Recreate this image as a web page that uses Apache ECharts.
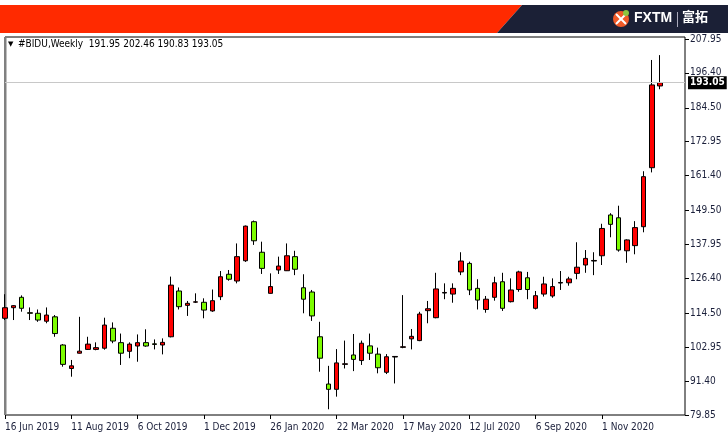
<!DOCTYPE html>
<html><head><meta charset="utf-8">
<script src="https://cdn.jsdelivr.net/npm/echarts@6/dist/echarts.min.js"></script>
<style>html,body{margin:0;padding:0;background:#fff}#c{width:728px;height:446px}</style>
</head><body><div id="c"></div>
<script>
// Weekly candles starting 16 Jun 2019
const startYear = 2019, startMonth = 5, startDay = 16;
const openV  = [112.8,116.4,119.95,114.7,114.5,111.8,113.3,103.7,95.7,100.9,102.2,102.2,102.6,109.4,104.5,101.55,103.35,104.5,104.1,103.7,
  106.5,122.1,117.2,118.3,118.25,115.3,120.15,127.8,125.5,132.4,145.7,135.3,121.3,129.25,129.0,133.8,123.2,121.75,106.5,90.4,
  88.6,97.1,100.3,98.4,103.4,100.6,94.4,99.6,102.9,105.8,105.2,115.4,113.0,121.4,121.05,128.6,131.5,123.0,115.8,119.95,
  125.25,118.45,122.6,126.6,116.2,121.05,120.4,124.8,124.9,128.1,130.95,132.3,134.1,148.0,147.05,135.8,137.55,144.0,164.1,191.95];
const closeV = [116.4,117.1,116.2,114.5,112.2,113.9,107.6,97.1,96.6,101.6,104.0,102.8,110.5,105.05,100.9,104.0,104.5,103.35,103.9,104.6,
  124.1,116.75,117.9,118.4,115.6,118.8,126.95,126.1,133.8,144.2,139.2,129.8,123.6,130.6,134.1,129.5,119.3,113.6,99.2,88.6,
  97.6,97.3,98.8,104.3,100.9,95.95,99.7,99.8,103.1,106.65,114.25,116.05,122.8,121.6,123.0,132.3,122.45,119.0,119.3,124.9,
  116.2,122.45,128.6,122.6,120.5,124.5,123.6,125.0,126.2,130.2,133.2,132.5,143.4,144.8,136.05,139.5,143.7,161.05,192.3,193.05];
const lowV   = [112.2,112.2,115.05,112.2,111.6,111.1,106.5,96.3,92.9,100.8,102.0,101.9,102.1,104.3,96.9,99.2,98.0,103.1,102.2,100.5,
  106.3,115.8,113.6,118.0,112.8,115.0,119.0,125.6,124.7,132.0,137.8,127.9,121.2,127.9,128.9,127.5,114.5,111.9,94.6,81.8,
  86.1,95.7,94.8,96.9,98.6,94.05,93.8,90.6,102.6,102.2,105.0,111.1,112.8,119.3,118.1,127.5,120.7,115.8,114.7,118.8,
  115.3,118.2,121.85,119.3,115.8,120.2,119.8,122.45,123.9,126.1,128.3,127.5,130.95,140.4,135.5,131.7,134.6,142.1,162.5,190.83];
const highV  = [121.0,117.3,120.6,116.5,115.8,116.5,113.9,104.0,98.6,113.3,106.5,104.6,113.0,111.4,107.6,104.6,107.3,109.05,105.6,105.95,
  127.0,123.3,118.7,121.3,119.6,122.6,128.9,129.25,138.3,144.4,146.1,138.9,128.1,133.8,138.3,135.8,127.8,122.45,111.6,96.6,
  102.3,105.2,107.45,105.2,107.6,102.8,100.6,99.95,120.7,109.15,115.0,118.7,128.3,124.7,124.7,135.3,132.1,126.1,120.4,126.95,
  128.3,126.4,129.0,128.6,122.1,126.95,126.4,128.9,126.95,138.7,136.05,135.3,145.0,148.6,151.15,139.7,145.9,162.9,200.8,202.46];
const yTicks = [79.85,91.40,102.95,114.50,126.40,137.95,149.50,161.40,172.95,184.50,196.40,207.95];
const lastPrice = 193.05;
const headerText = '#BIDU,Weekly  191.95 202.46 190.83 193.05';
const labelEvery = 8;
const padWeeks = 3;

const months = ['Jan','Feb','Mar','Apr','May','Jun','Jul','Aug','Sep','Oct','Nov','Dec'];
const cats = [];
for (let i = 0; i < openV.length + padWeeks; i++) {
  const d = new Date(Date.UTC(startYear, startMonth, startDay + 7 * i));
  cats.push(d.getUTCDate() + ' ' + months[d.getUTCMonth()] + ' ' + d.getUTCFullYear());
}
const ohlc = openV.map((o, i) => [o, closeV[i], lowV[i], highV[i]]);
const showIdx = (i) => i % labelEvery === 0 && i < openV.length;

const FONT = 'DejaVu Sans Condensed, DejaVu Sans, sans-serif';
const chart = echarts.init(document.getElementById('c'), null, {renderer: 'canvas'});
chart.setOption({
  animation: false,
  backgroundColor: '#ffffff',
  grid: {left: 5, right: 43, top: 37, bottom: 31, show: true, borderColor: '#000', borderWidth: 1, backgroundColor: '#fff'},
  xAxis: {
    type: 'category', data: cats, boundaryGap: false,
    axisLine: {show: false},
    axisTick: {show: true, length: 4, interval: showIdx, lineStyle: {color: '#000'}},
    axisLabel: {interval: showIdx, align: 'left', margin: 7,
      fontSize: 10, fontFamily: FONT, color: '#1a1f3a'},
    splitLine: {show: false}
  },
  yAxis: {
    type: 'value', position: 'right', min: 79.85, max: 208.63, scale: true,
    axisLine: {show: false}, splitLine: {show: false},
    axisTick: {show: true, length: 4, customValues: yTicks, lineStyle: {color: '#000'}},
    axisLabel: {customValues: yTicks, formatter: (v) => v.toFixed(2), margin: 5,
      fontSize: 10, fontFamily: FONT, color: '#1a1f3a'}
  },
  series: [{
    type: 'candlestick', data: ohlc, barWidth: 5, clip: true,
    itemStyle: {color: '#ff0000', color0: '#7cfc00', borderColor: '#000', borderColor0: '#000', borderWidth: 1},
    markLine: {
      silent: true, symbol: ['none', 'none'], animation: false,
      lineStyle: {color: '#c8c8c8', type: 'solid', width: 1},
      label: {show: true, position: 'end', formatter: () => lastPrice.toFixed(2), distance: 3,
        backgroundColor: '#000', color: '#fff', padding: [2, 2, 1, 2], fontSize: 10, fontWeight: 'bold', fontFamily: FONT},
      data: [{yAxis: lastPrice}]
    }
  }],
  graphic: [
    {type: 'polygon', shape: {points: [[0,5],[522,5],[497,33],[0,33]]}, style: {fill: '#ff2a00'}, silent: true},
    {type: 'polygon', shape: {points: [[522,5],[728,5],[728,33],[497,33]]}, style: {fill: '#1b2036'}, silent: true},
    {type: 'line', shape: {x1: 5.5, y1: 37, x2: 5.5, y2: 415}, style: {stroke: '#808080', lineWidth: 2}, silent: true},
    {type: 'circle', shape: {cx: 621, cy: 19, r: 8}, style: {fill: '#f05a28'}},
    {type: 'line', shape: {x1: 616, y1: 14, x2: 626, y2: 24}, style: {stroke: '#fff', lineWidth: 2}},
    {type: 'line', shape: {x1: 626, y1: 14, x2: 616, y2: 24}, style: {stroke: '#fff', lineWidth: 2}},
    {type: 'circle', shape: {cx: 626, cy: 13, r: 3}, style: {fill: '#8dc63f'}},
    {type: 'text', left: 634, top: 11, style: {text: 'FXTM', fill: '#fff', font: 'bold 14px Liberation Sans, sans-serif'}},
    {type: 'line', shape: {x1: 677.5, y1: 12, x2: 677.5, y2: 27}, style: {stroke: '#aab', lineWidth: 1}},
    {type: 'text', left: 682, top: 10, style: {text: '富拓', fill: '#fff', font: 'bold 13px Noto Sans CJK SC, sans-serif'}},
    {type: 'text', left: 8, top: 41, style: {text: '▼', fill: '#000', font: '7px DejaVu Sans, sans-serif'}},
    {type: 'text', left: 18, top: 39, style: {text: headerText, fill: '#000', font: '10px ' + FONT}}
  ]
});
</script></body></html>
